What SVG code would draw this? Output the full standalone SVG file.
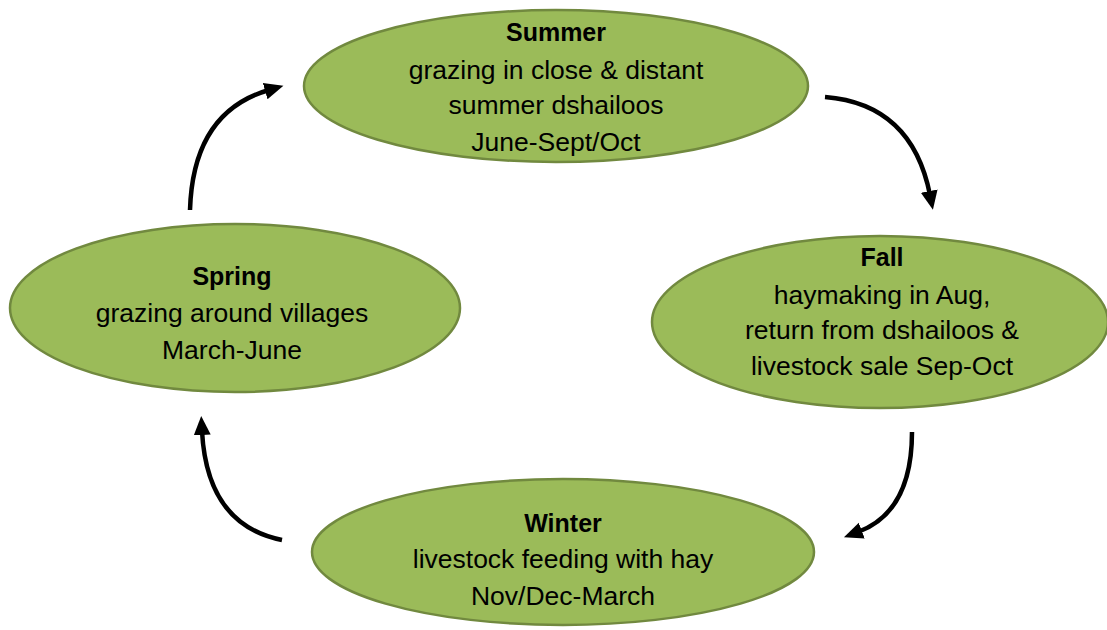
<svg xmlns="http://www.w3.org/2000/svg" width="1107" height="630" viewBox="0 0 1107 630">
<style>
.node ellipse{fill:#9BBB59;stroke:#71893F;stroke-width:2.5}
text{font-family:"Liberation Sans",Arial,sans-serif;font-size:26.5px;fill:#000;text-anchor:middle}
.t{font-weight:bold;font-size:25px}
.conn path{fill:none;stroke:#000;stroke-width:4.5}
</style>
<defs>
<marker id="ah" markerUnits="userSpaceOnUse" markerWidth="20" markerHeight="20" viewBox="0 0 20 20" refX="4" refY="10" orient="auto">
<path d="M0,1.5 L19,10 L0,18.5 Z" fill="#000"/>
</marker>
</defs>
<rect width="1107" height="630" fill="#fff"/>
<g class="conn">
<path d="M825,97 Q912,104 930,195" marker-end="url(#ah)"/>
<path d="M912,432 Q912,512 858,532" marker-end="url(#ah)"/>
<path d="M282,540 Q207,525 202,431" marker-end="url(#ah)"/>
<path d="M190,210 Q193,112 269,90" marker-end="url(#ah)"/>
</g>
<g id="summer" class="node">
<ellipse cx="556" cy="86" rx="252" ry="76"/>
<text x="556" y="41" class="t">Summer</text>
<text x="556" y="79">grazing in close &amp; distant</text>
<text x="556" y="114">summer dshailoos</text>
<text x="556" y="151">June-Sept/Oct</text>
</g>
<g id="fall" class="node">
<ellipse cx="880" cy="322" rx="228" ry="86"/>
<text x="882" y="266" class="t">Fall</text>
<text x="882" y="304">haymaking in Aug,</text>
<text x="882" y="339">return from dshailoos &amp;</text>
<text x="882" y="375">livestock sale Sep-Oct</text>
</g>
<g id="spring" class="node">
<ellipse cx="235" cy="308" rx="225" ry="84"/>
<text x="232" y="285" class="t">Spring</text>
<text x="232" y="322">grazing around villages</text>
<text x="232" y="359">March-June</text>
</g>
<g id="winter" class="node">
<ellipse cx="563" cy="552" rx="251" ry="73"/>
<text x="563" y="532" class="t">Winter</text>
<text x="563" y="568">livestock feeding with hay</text>
<text x="563" y="605">Nov/Dec-March</text>
</g>
</svg>
